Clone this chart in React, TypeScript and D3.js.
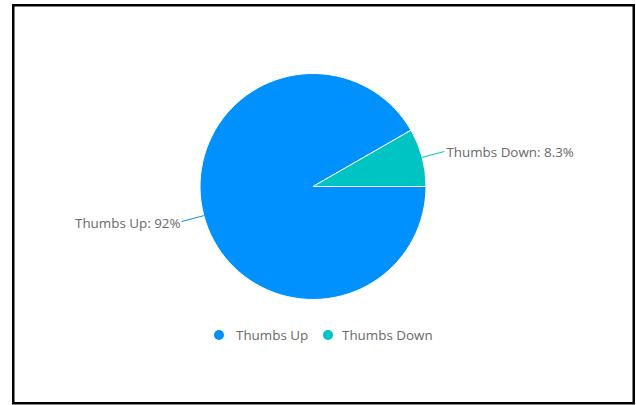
import React from "react";
import * as d3 from "d3";

const categories = ["Thumbs Up", "Thumbs Down"];
const percentages = [91.7, 8.3];
const colors = ["#0091ff", "#00c3c3"];

const W = 636;
const H = 405;
const cx = 313;
const cy = 186.5;
const R = 113;
const FONT = "'Open Sans', 'Noto Sans', sans-serif";
const TEXT = "#696969";

export default function App() {
  const pie = d3
    .pie<number>()
    .sort(null)
    .startAngle(Math.PI / 2)
    .endAngle(Math.PI / 2 + 2 * Math.PI)
    .padAngle(0);
  const arcs = pie(percentages);
  const arc = d3.arc<d3.PieArcDatum<number>>().innerRadius(0).outerRadius(R);
  const fmt = d3.format(".2r");

  const legendX = [219, 328];
  const legendTextX = [236, 342];
  const legendY = 335;

  return (
    <svg
      width={W}
      height={H}
      style={{ position: "absolute", left: 0, top: 0, background: "#fff" }}
    >
      <rect x={13.25} y={5.25} width={620.5} height={398} fill="#fff" stroke="#000" strokeWidth={2.5} />
      <g transform={`translate(${cx},${cy})`}>
        {arcs.map((a, i) => (
          <path key={i} d={arc(a) || ""} fill={colors[i]} stroke="#fff" strokeWidth={1} />
        ))}
        {arcs.map((a, i) => {
          const mid = (a.startAngle + a.endAngle) / 2;
          const sx = Math.sin(mid) * R;
          const sy = -Math.cos(mid) * R;
          const ex = Math.sin(mid) * (R + 23);
          const ey = -Math.cos(mid) * (R + 23);
          const right = ex > 0;
          return (
            <g key={"l" + i}>
              <line x1={sx} y1={sy} x2={ex} y2={ey} stroke={colors[i]} strokeWidth={1} />
              <text
                x={ex + (right ? 2 : -1)}
                y={ey + 1}
                dominantBaseline="central"
                textAnchor={right ? "start" : "end"}
                fontFamily={FONT}
                fontSize={13.4}
                fill={TEXT}
              >
                {`${categories[i]}: ${fmt(percentages[i])}%`}
              </text>
            </g>
          );
        })}
      </g>
      {categories.map((c, i) => (
        <g key={"g" + i}>
          <circle cx={legendX[i]} cy={legendY} r={5} fill={colors[i]} />
          <text
            x={legendTextX[i]}
            y={legendY}
            dominantBaseline="central"
            fontFamily={FONT}
            fontSize={13.4}
            fill={TEXT}
          >
            {c}
          </text>
        </g>
      ))}
    </svg>
  );
}
